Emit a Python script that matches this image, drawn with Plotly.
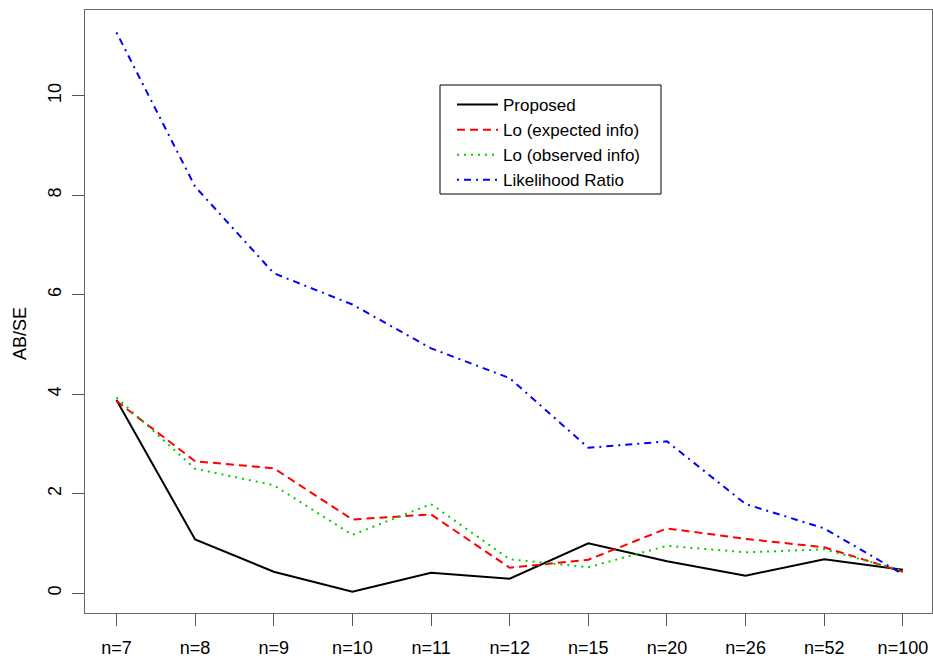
import plotly.graph_objects as go

categories = ["n=7", "n=8", "n=9", "n=10", "n=11", "n=12", "n=15", "n=20", "n=26", "n=52", "n=100"]
proposed = [3.88, 1.08, 0.43, 0.03, 0.41, 0.29, 1.00, 0.64, 0.35, 0.68, 0.47]
lo_expected = [3.86, 2.65, 2.51, 1.48, 1.58, 0.51, 0.67, 1.30, 1.09, 0.92, 0.43]
lo_observed = [3.93, 2.50, 2.17, 1.17, 1.79, 0.68, 0.52, 0.95, 0.82, 0.88, 0.45]
likelihood_ratio = [11.27, 8.17, 6.43, 5.80, 4.92, 4.32, 2.92, 3.05, 1.79, 1.30, 0.38]
y_ticks = [0, 2, 4, 6, 8, 10]

FONT = "Liberation Sans, Arial, sans-serif"
W, H = 933, 662
ML, MR, MT, MB = 85, 1, 10, 49
PW, PH = W - ML - MR, H - MT - MB


def px_x(p):
    return (p - ML) / PW


def px_y(p):
    return (H - MB - p) / PH


xi = list(range(len(categories)))

fig = go.Figure()
series = [
    ("Proposed", proposed, "black", "solid"),
    ("Lo (expected info)", lo_expected, "#ff0000", "8px,5px"),
    ("Lo (observed info)", lo_observed, "#00cd00", "2px,5px"),
    ("Likelihood Ratio", likelihood_ratio, "#0000ff", "2px,5px,7px,5px"),
]
for name, vals, color, dash in series:
    fig.add_trace(go.Scatter(x=xi, y=vals, mode="lines", name=name,
                             line=dict(color=color, width=2, dash=dash)))

fig.update_layout(
    width=W, height=H,
    margin=dict(l=ML, r=MR, t=MT, b=MB),
    plot_bgcolor="white", paper_bgcolor="white",
    font=dict(family=FONT, size=18, color="black"),
    showlegend=True,
    legend=dict(x=px_x(452), y=px_y(87), xanchor="left", yanchor="top",
                borderwidth=0, bgcolor="rgba(0,0,0,0)",
                font=dict(size=17, family=FONT), itemwidth=41,
                tracegroupgap=0),
    shapes=[dict(type="rect", xref="paper", yref="paper",
                 x0=px_x(440), x1=px_x(661), y0=px_y(194), y1=px_y(85),
                 line=dict(color="black", width=1), fillcolor="white", layer="below")],
    annotations=[dict(text="AB/SE", x=px_x(20), y=px_y(334), xref="paper", yref="paper",
                      textangle=-90, showarrow=False, font=dict(size=18, family=FONT),
                      xanchor="center", yanchor="middle")],
)
fig.update_xaxes(range=[-0.40, 10.37], tickmode="array", tickvals=xi, ticktext=categories,
                 showgrid=False, zeroline=False, showline=True, mirror=True, linecolor="#666",
                 ticks="outside", ticklen=12, tickcolor="#555", tickwidth=1,
                 ticklabelstandoff=6)
fig.update_yaxes(range=[-0.40, 11.72], tickmode="array", tickvals=y_ticks,
                 ticktext=[str(v) for v in y_ticks], tickangle=-90,
                 showgrid=False, zeroline=False, showline=True, mirror=True, linecolor="#666",
                 ticks="outside", ticklen=12, tickcolor="#555", tickwidth=1,
                 ticklabelstandoff=4)

fig.write_html("out.html", config={"displayModeBar": False},
               post_script="document.body.style.margin='0';document.body.style.overflow='hidden';")
